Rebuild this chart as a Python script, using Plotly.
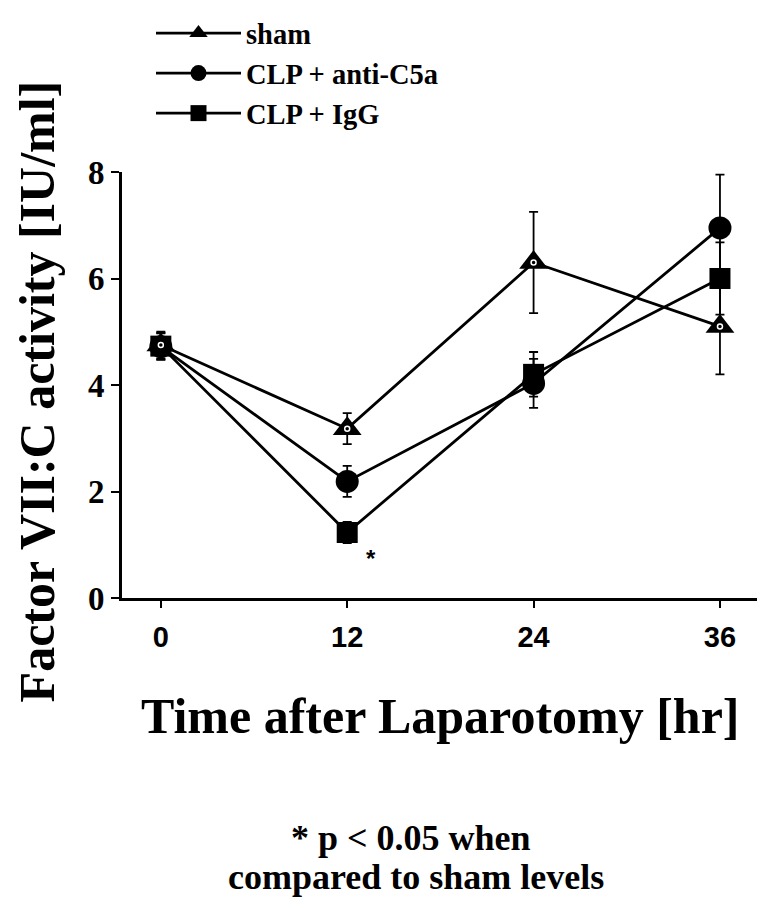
import plotly.graph_objects as go

# Data
time_hr = [0, 12, 24, 36]
sham = [4.75, 3.18, 6.3, 5.1]
sham_err = [0.25, 0.29, 0.95, 0.9]
anti_c5a = [4.72, 2.19, 4.03, 6.95]
anti_c5a_err = [0.25, 0.29, 0.46, 1.0]
igg = [4.73, 1.23, 4.2, 6.0]
igg_err = [0.25, 0.2, 0.42, 0.68]

x_ticks = [0, 12, 24, 36]
y_ticks = [0, 2, 4, 6, 8]

SERIF = "Liberation Serif, Times New Roman, serif"
SANS = "Liberation Sans, Arial, sans-serif"

fig = go.Figure()

def add_series(name, y, err, symbol, size):
    fig.add_trace(go.Scatter(
        x=time_hr, y=y, name=name, mode="lines+markers",
        line=dict(color="black", width=2.8),
        marker=dict(symbol=symbol, size=size, color="black", line=dict(width=0)),
        error_y=dict(type="data", array=err, visible=True, color="black",
                     thickness=1.8, width=4.5),
        cliponaxis=False,
        legendgroup=name,
    ))

add_series("sham", sham, sham_err, "triangle-up", 25)
add_series("CLP + anti-C5a", anti_c5a, anti_c5a_err, "circle", 23)
add_series("CLP + IgG", igg, igg_err, "square", 21)

# white ring dot inside sham triangles
fig.add_trace(go.Scatter(
    x=time_hr, y=sham, mode="markers", showlegend=False, hoverinfo="skip",
    marker=dict(symbol="circle", size=5, color="black", line=dict(color="white", width=1.5)),
    cliponaxis=False,
))

# page body has an 8px margin: work in screen pixels, shift by OFF
OFF = 8
W, H = 765 - OFF, 899 - OFF
L, T, PW, PH = 122 - OFF, 165 - OFF, 643, 433

def px(xs):
    return (xs - OFF - L) / PW

def py(ys):
    return (T + PH - (ys - OFF)) / PH

fig.update_layout(
    width=W, height=H,
    margin=dict(l=L, r=W - L - PW, t=T, b=H - T - PH),
    paper_bgcolor="white", plot_bgcolor="white",
    showlegend=True,
    legend=dict(
        x=px(151), y=py(-2), xanchor="left", yanchor="top",
        font=dict(family=SERIF, size=28.5, color="black", weight="bold"),
        bgcolor="rgba(0,0,0,0)", traceorder="grouped", tracegroupgap=0,
        itemwidth=85,
    ),
    xaxis=dict(
        range=[-2.5, 38.9], tickvals=x_ticks, ticktext=[str(t) for t in x_ticks],
        showline=True, linecolor="black", linewidth=3, showgrid=False, zeroline=False,
        ticks="outside", ticklen=7, tickwidth=2, tickcolor="black",
        tickfont=dict(family=SANS, size=29, color="black", weight="bold"),
        ticklabelstandoff=4,
        automargin=False,
    ),
    yaxis=dict(
        range=[0, 8], tickvals=y_ticks,
        showline=True, linecolor="black", linewidth=3, showgrid=False, zeroline=False,
        ticks="outside", ticklen=8, tickwidth=2, tickcolor="black",
        tickfont=dict(family=SERIF, size=33, color="black", weight="bold"),
        automargin=False,
    ),
    annotations=[
        dict(text="<b>Factor VII:C activity [IU/ml]</b>", textangle=-90,
             xref="paper", yref="paper", x=px(37), y=py(388),
             xanchor="center", yanchor="middle", showarrow=False,
             font=dict(family=SERIF, size=50, color="black")),
        dict(text="<b>Time after Laparotomy [hr]</b>",
             xref="paper", yref="paper", x=px(440), y=py(718),
             xanchor="center", yanchor="middle", showarrow=False,
             font=dict(family=SERIF, size=50, color="black")),
        dict(text="<b>* p < 0.05 when</b>",
             xref="paper", yref="paper", x=px(411), y=py(842),
             xanchor="center", yanchor="middle", showarrow=False,
             font=dict(family=SERIF, size=36, color="black")),
        dict(text="<b>compared to sham levels</b>",
             xref="paper", yref="paper", x=px(416), y=py(882),
             xanchor="center", yanchor="middle", showarrow=False,
             font=dict(family=SERIF, size=36, color="black")),
        dict(text="<b>*</b>", xref="x", yref="y", x=13.5, y=0.75,
             showarrow=False, font=dict(family=SANS, size=24, color="black")),
    ],
)

fig.write_html("out.html")
